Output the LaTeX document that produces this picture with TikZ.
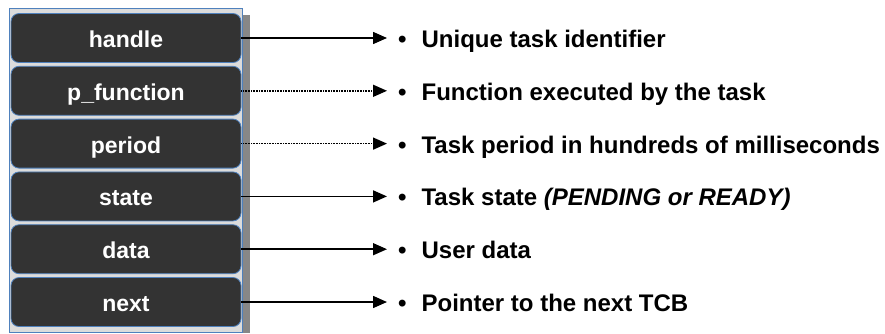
\documentclass[tikz,border=0pt]{standalone}
\usepackage{fontspec}
\setmainfont{Liberation Sans}
\usetikzlibrary{arrows.meta}

\definecolor{tcbdark}{HTML}{333333}
\definecolor{tcbblue}{HTML}{4F81BD}
\definecolor{tcbframe}{HTML}{DCDCDC}
\definecolor{tcbshadow}{HTML}{878787}

\tikzset{
  field/.style={draw=tcbblue, fill=tcbdark, rounded corners=8pt, line width=0.8pt,
    minimum width=230pt, minimum height=49pt, inner sep=0pt,
    text height=19pt, text depth=0pt, text=white,
    font=\fontsize{23}{27}\selectfont\bfseries},
  desc/.style={anchor=west, inner sep=0pt, text height=19pt, text depth=0pt,
    font=\fontsize{24}{28}\selectfont\bfseries},
  link/.style={-{Triangle[length=14pt,width=12pt]}, line width=1.5pt, shorten >=11pt},
  dotlink/.style={link, dash pattern=on 1pt off 0.6pt},
}

\begin{document}
\begin{tikzpicture}[x=1pt,y=-1pt]
\useasboundingbox (0,0) rectangle (885,333);

% frame of the TCB
\fill[tcbshadow] (242,15) rectangle (250,333);
\draw[tcbblue, fill=tcbframe, line width=0.8pt] (9,8) rectangle (242,332);

\node[field] (handle) at (126,38) {handle};
\node[field] (pfunc) at (126,90.8) {p\_function};
\node[field] (period) at (126,143.6) {period};
\node[field] (state) at (126,196.4) {state};
\node[field] (data) at (126,249.2) {data};
\node[field] (next) at (126,302) {next};

\node[desc] (dhandle) at (398,38) {•\hspace{15pt}Unique task identifier};
\node[desc] (dpfunc) at (398,90.8) {•\hspace{15pt}Function executed by the task};
\node[desc] (dperiod) at (398,143.6) {•\hspace{15pt}Task period in hundreds of milliseconds};
\node[desc] (dstate) at (398,196.4) {•\hspace{15pt}Task state \textit{(PENDING or READY)}};
\node[desc] (ddata) at (398,249.2) {•\hspace{15pt}User data};
\node[desc] (dnext) at (398,302) {•\hspace{15pt}Pointer to the next TCB};

\draw[link] (handle.east) -- (dhandle.west);
\draw[dotlink] (pfunc.east) -- (dpfunc.west);
\draw[dotlink] (period.east) -- (dperiod.west);
\draw[link] (state.east) -- (dstate.west);
\draw[link] (data.east) -- (ddata.west);
\draw[link] (next.east) -- (dnext.west);
\end{tikzpicture}
\end{document}
